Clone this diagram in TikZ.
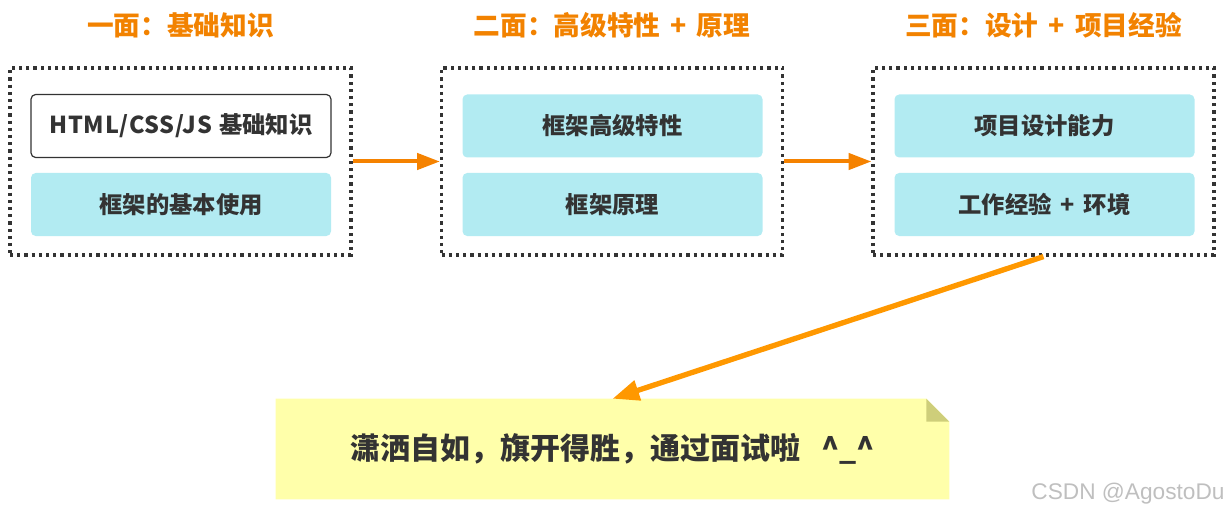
\documentclass[tikz,border=0pt]{standalone}
\usepackage{fontspec}
\setmainfont{Noto Sans CJK SC}
\newfontfamily\markfont{Liberation Sans}
\usetikzlibrary{arrows.meta,backgrounds}

\definecolor{titleorange}{RGB}{242,130,0}
\definecolor{arroworange}{RGB}{245,130,0}
\definecolor{lightorange}{RGB}{255,152,0}
\definecolor{boxcyan}{RGB}{178,235,242}
\definecolor{inkgray}{RGB}{51,51,51}
\definecolor{notefill}{RGB}{255,255,170}
\definecolor{notefold}{RGB}{206,206,122}

\newcommand{\plusgap}{\hspace{0.38em}+\hspace{0.38em}}

\begin{document}
\begin{tikzpicture}[x=0.75pt, y=-0.75pt,
  stagetitle/.style={text=titleorange, font=\fontsize{20}{24}\selectfont\bfseries},
  stageframe/.style={draw=inkgray, line width=2.4pt, dash pattern=on 2.4pt off 3pt,
    minimum width=255.75pt, minimum height=140.25pt, inner sep=0pt},
  item/.style={fill=boxcyan, rounded corners=3.5pt, text=inkgray,
    minimum width=225pt, minimum height=47.25pt, inner sep=0pt,
    font=\fontsize{17.5}{21}\selectfont\bfseries},
  plainitem/.style={item, fill=white, draw=inkgray, line width=0.9pt},
  flow/.style={line width=3pt, -{Triangle[length=17pt,width=12pt]}}]
  \useasboundingbox (0,0) rectangle (1226,513);

  % stage titles
  \node[stagetitle] (t1) at (180.5,25) {一面：基础知识};
  \node[stagetitle] (t2) at (612,25) {二面：高级特性\plusgap 原理};
  \node[stagetitle] (t3) at (1043.5,25) {三面：设计\plusgap 项目经验};

  % dotted frames
  \node[stageframe] (f1) at (180.5,161.5) {};
  \node[stageframe] (f2) at (612,161.5) {};
  \node[stageframe] (f3) at (1043.5,161.5) {};

  % items
  \node[plainitem] (basics) at (181,126)
    {{\addfontfeatures{LetterSpace=3}HTML/CSS/JS}\hspace{0.3em}基础知识};
  \node[item] (usage) at (181,204.5) {框架的基本使用};
  \node[item] (advanced) at (612.5,126) {框架高级特性};
  \node[item] (principle) at (612.5,204.5) {框架原理};
  \node[item] (design) at (1044.5,126) {项目设计能力};
  \node[item] (experience) at (1044.5,204.5) {工作经验\plusgap 环境};

  % note
  \node[minimum width=504.75pt, minimum height=75pt, inner sep=0pt, text=inkgray,
    font=\fontsize{22.5}{27}\selectfont\bfseries] (note) at (612.5,449)
    {潇洒自如，旗开得胜，通过面试啦\hspace{0.7em}\textasciicircum\_\textasciicircum};
  \begin{scope}[on background layer]
    \fill[notefill] (note.north west) -- ([xshift=-17.25pt]note.north east)
      -- ([yshift=-17.25pt]note.north east) -- (note.south east)
      -- (note.south west) -- cycle;
    \fill[notefold] ([xshift=-17.25pt]note.north east)
      -- ([yshift=-17.25pt]note.north east)
      -- ([xshift=-17.25pt,yshift=-17.25pt]note.north east) -- cycle;
  \end{scope}

  % arrows
  \draw[flow, arroworange] (f1.east) -- (f2.west);
  \draw[flow, arroworange] (f2.east) -- (f3.west);
  \draw[lightorange, line width=4pt, -{Triangle[length=20pt,width=15pt]}] (f3.south) -- (note.north);

  \node[text=black!25, font=\markfont\fontsize{17}{20}\selectfont] (mark) at (1128,494) {CSDN @AgostoDu};
\end{tikzpicture}
\end{document}
